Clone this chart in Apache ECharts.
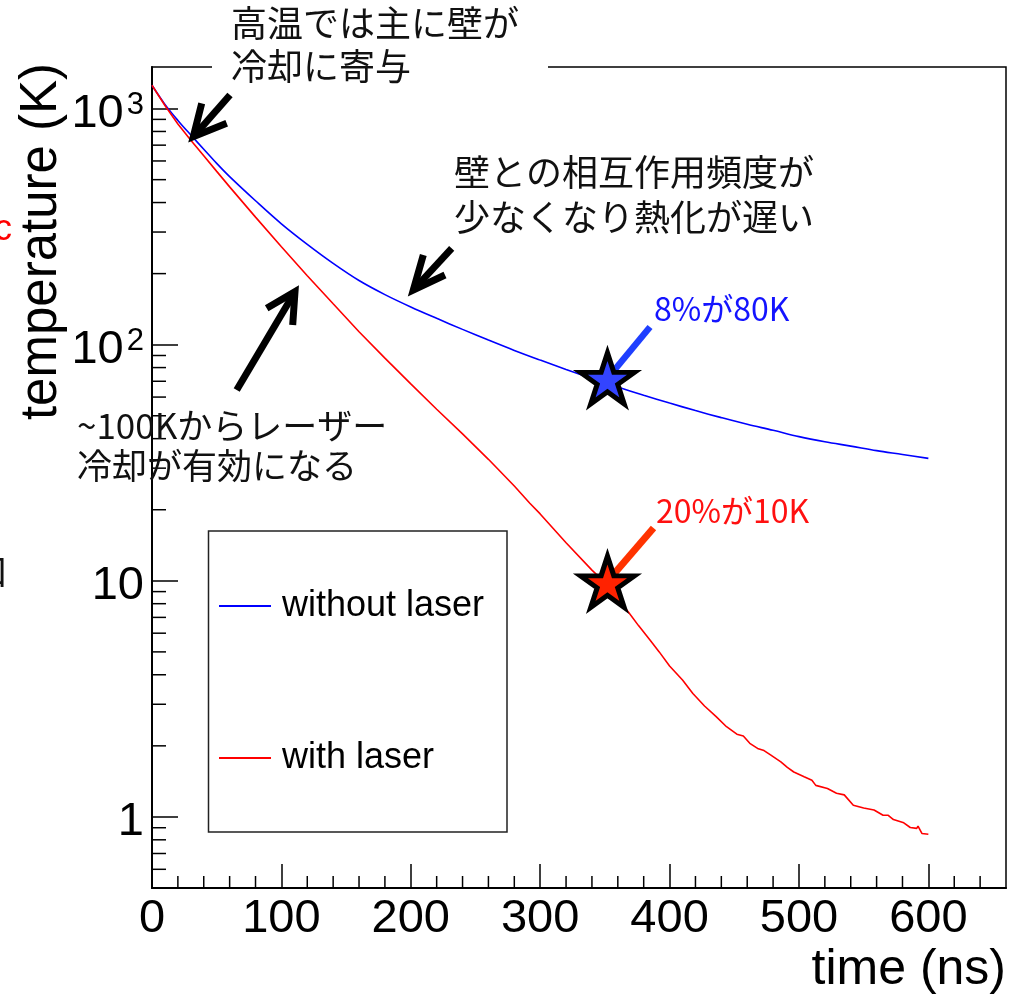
<!DOCTYPE html>
<html>
<head>
<meta charset="utf-8">
<script src="https://cdn.jsdelivr.net/npm/echarts@6/dist/echarts.min.js"></script>
<style>html,body{margin:0;padding:0;background:#fff}#c{width:1014px;height:1000px}</style>
</head>
<body>
<div id="c"></div>
<script>
// ---------------- data ----------------
const seriesNames = ['without laser', 'with laser'];
const timeBlue = [0,10,20,30,40,50,60,80,100,120,140,160,180,200,220,240,260,280,300,320,340,360,380,400,420,440,460,480,500,520,540,560,580,600];
const tempBlue = [1256,1042,891,773,673,586,515,407,325,266,221,187,163,144.5,129.3,116.1,104.6,94.6,86.1,78.6,72.0,66.2,61.1,56.6,52.6,49.1,46.0,43.4,40.8,38.8,37.2,35.6,34.3,33.0];
const timeRed = [0,10,20,30,40,50,60,80,100,120,140,160,180,200,220,240,260,280,292,300,320,340,352,360,368,376,385,392,400,410,418,427,436,444,452,457,462,468,473,478,486,491,496,504,510,513,522,529,535,542,550,558,565,569,573,581,586,591,592,595,600];
const tempRed = [1256,1030,861,735,631,542,466,347,260,196,149,113.5,87.7,68.2,53.3,41.9,32.7,25.2,21.3,19.2,14.5,11.1,9.6,8.4,7.4,6.46,5.6,5.0,4.36,3.8,3.33,2.95,2.66,2.41,2.24,2.20,2.05,1.95,1.91,1.83,1.71,1.62,1.55,1.48,1.43,1.36,1.32,1.26,1.24,1.12,1.09,1.07,1.016,1.016,0.975,0.944,0.902,0.894,0.914,0.851,0.845];
const starTime = [352, 352];
const starTemp = [72, 9.9];
const xTicks = [0,100,200,300,400,500,600];
const xMinorTicks = [20,40,60,80,120,140,160,180,220,240,260,280,320,340,360,380,420,440,460,480,520,540,560,580,620,640];
const yTicks = [1,10,100,1000];
const yMinorTicks = [0.6,0.7,0.8,0.9,2,3,4,5,6,7,8,9,20,30,40,50,60,70,80,90,200,300,400,500,600,700,800,900];
const xTitle = 'time (ns)';
const yTitle = 'temperature (K)';
const note1 = ['高温では主に壁が', '冷却に寄与'];
const note2 = ['壁との相互作用頻度が', '少なくなり熱化が遅い'];
const note3 = ['~100Kからレーザー', '冷却が有効になる'];
const starNotes = ['8%が80K', '20%が10K'];

// ---------------- styles ----------------
const FONT = "'Liberation Sans', Arial, Helvetica, sans-serif";
const JFONT = "'Noto Sans CJK JP', 'Noto Sans', sans-serif";
const BLUE = '#0000ff', RED = '#ff0000';
const starFill = ['#3344ff', '#ff2200'];
const STAR = 'path://M50 0 L61.23 34.55 L97.55 34.55 L68.17 55.9 L79.39 90.45 L50 69.1 L20.61 90.45 L31.83 55.9 L2.45 34.55 L38.77 34.55 Z';

const chart = echarts.init(document.getElementById('c'));

function minorYTick(params, api) {
  const p = api.coord([api.value(0), api.value(1)]);
  return {type: 'line', shape: {x1: p[0], y1: p[1], x2: p[0] + 14, y2: p[1]}, style: {stroke: '#000', lineWidth: 1.5}};
}
function minorXTick(params, api) {
  const p = api.coord([api.value(0), api.value(1)]);
  return {type: 'line', shape: {x1: p[0], y1: p[1], x2: p[0], y2: p[1] - 12}, style: {stroke: '#000', lineWidth: 1.5}};
}

function arrow(tail, tip, w1, w2) {
  return [
    {type: 'polyline', z: 50, shape: {points: [tail, tip]}, style: {stroke: '#000', lineWidth: 7, fill: null, lineCap: 'butt'}},
    {type: 'polyline', z: 50, shape: {points: [w1, tip, w2]}, style: {stroke: '#000', lineWidth: 7, fill: null, lineJoin: 'miter', lineCap: 'butt'}}
  ];
}
function jtext(lines, x, y, lh, size) {
  return {type: 'text', z: 60, x: x, y: y, style: {text: lines.join('\n'), font: size + 'px ' + JFONT, fill: '#111', lineHeight: lh, align: 'left', verticalAlign: 'top'}};
}

const graphics = [
  // gap in the top frame behind note 1
  {type: 'rect', z: 40, shape: {x: 212, y: 55, width: 336, height: 25}, style: {fill: '#fff'}},
  // legend frame
  {type: 'rect', z: 50, shape: {x: 208.5, y: 531, width: 298.5, height: 301}, style: {fill: 'none', stroke: '#222', lineWidth: 1.5}},
  ...arrow([230, 95], [193.3, 136.7], [201.7, 103.3], [226.7, 123.3]),
  ...arrow([451.7, 248.3], [413.3, 290], [423.3, 255], [445, 275]),
  ...arrow([236.7, 390], [295, 291.7], [266.7, 308.3], [292.7, 325]),
  // pointers to stars
  {type: 'line', z: 4, shape: {x1: 607, y1: 379, x2: 650, y2: 327}, style: {stroke: '#1f3fff', lineWidth: 6.5}},
  {type: 'line', z: 4, shape: {x1: 607, y1: 582, x2: 653.5, y2: 528}, style: {stroke: '#ff3300', lineWidth: 7}},
  {type: 'text', z: 60, x: 654, y: 308.5, style: {text: starNotes[0], font: '32px ' + JFONT, fill: '#1414ff', align: 'left', verticalAlign: 'middle'}},
  {type: 'text', z: 60, x: 656, y: 511, style: {text: starNotes[1], font: '32px ' + JFONT, fill: '#ff1010', align: 'left', verticalAlign: 'middle'}},
  jtext(note1, 231, 2, 43, 36),
  jtext(note2, 454, 150, 45, 36),
  jtext(note3, 77, 406, 40, 35),
  // axis titles
  {type: 'text', z: 60, x: 41.5, y: 241.5, rotation: Math.PI / 2, style: {text: yTitle, font: '51px ' + FONT, fill: '#000', align: 'center', verticalAlign: 'middle'}},
  {type: 'text', z: 60, x: 1006, y: 970.5, style: {text: xTitle, font: '50px ' + FONT, fill: '#000', align: 'right', verticalAlign: 'middle'}},
  // cut-off fragments at the left edge of the slide
  {type: 'text', z: 60, x: -6, y: 230, style: {text: 'c', font: '36px ' + FONT, fill: '#ff0000', align: 'left', verticalAlign: 'middle'}},
  {type: 'text', z: 60, x: -28, y: 571, style: {text: '口', font: '36px ' + JFONT, fill: '#111', align: 'left', verticalAlign: 'middle'}}
];

const option = {
  animation: false,
  backgroundColor: '#fff',
  grid: {left: 152, right: 8, top: 67, bottom: 112, show: true, borderColor: '#000', borderWidth: 1.5, backgroundColor: 'transparent', containLabel: false, outerBoundsMode: 'none'},
  legend: {
    data: seriesNames, orient: 'vertical', left: 219, top: 586, padding: 0,
    itemWidth: 52, itemHeight: 2, itemGap: 112, icon: 'rect',
    textStyle: {fontSize: 36, fontFamily: FONT, color: '#000', lineHeight: 40, padding: [0, 0, 0, 6]}
  },
  xAxis: {
    type: 'value', min: 0, max: 660,
    axisLine: {show: true, onZero: false, lineStyle: {color: '#000', width: 2}},
    axisTick: {show: true, inside: true, length: 24, customValues: xTicks, lineStyle: {color: '#000', width: 1.5}},
    axisLabel: {customValues: xTicks, fontSize: 47, fontFamily: FONT, color: '#000', margin: 8, lineHeight: 47},
    splitLine: {show: false}, minorTick: {show: false}
  },
  yAxis: {
    type: 'log', logBase: 10, min: 0.5, max: 1500,
    axisLine: {show: true, onZero: false, lineStyle: {color: '#000', width: 2}},
    axisTick: {show: true, inside: true, length: 26, customValues: yTicks, lineStyle: {color: '#000', width: 1.5}},
    axisLabel: {
      customValues: yTicks, margin: 8, padding: [10, 0, 0, 0], fontSize: 47, fontFamily: FONT, color: '#000',
      formatter: function (v) {
        if (v >= 100) return '{a|10}{b|' + Math.round(Math.log10(v)) + '}';
        return '{a|' + Math.round(v) + '}';
      },
      rich: {
        a: {fontSize: 47, fontFamily: FONT, color: '#000', lineHeight: 47},
        b: {fontSize: 31, fontFamily: FONT, color: '#000', lineHeight: 31, verticalAlign: 'top', padding: [0, 0, 36, 3]}
      }
    },
    splitLine: {show: false}, minorTick: {show: false}
  },
  series: [
    {type: 'line', name: seriesNames[0], color: BLUE, data: timeBlue.map((t, i) => [t, tempBlue[i]]), showSymbol: false, symbol: 'none', smooth: 0.35, lineStyle: {color: BLUE, width: 1.6}, z: 3, silent: true},
    {type: 'line', name: seriesNames[1], color: RED, data: timeRed.map((t, i) => [t, tempRed[i]]), showSymbol: false, symbol: 'none', smooth: false, lineStyle: {color: RED, width: 1.6}, z: 3, silent: true},
    {type: 'scatter', name: 'markers', z: 10, silent: true, symbol: STAR, symbolSize: [54, 51],
      itemStyle: {borderColor: '#000', borderWidth: 5, borderJoin: 'miter', borderMiterLimit: 10, opacity: 1},
      data: starTime.map((t, i) => ({value: [t, starTemp[i]], itemStyle: {color: starFill[i]}}))},
    {type: 'custom', name: 'yminor', silent: true, clip: false, renderItem: minorYTick, data: yMinorTicks.map(v => [0, v]), z: 4},
    {type: 'custom', name: 'xminor', silent: true, clip: false, renderItem: minorXTick, data: xMinorTicks.map(t => [t, 0.5]), z: 4}
  ],
  graphic: graphics
};
chart.setOption(option);
</script>
</body>
</html>
